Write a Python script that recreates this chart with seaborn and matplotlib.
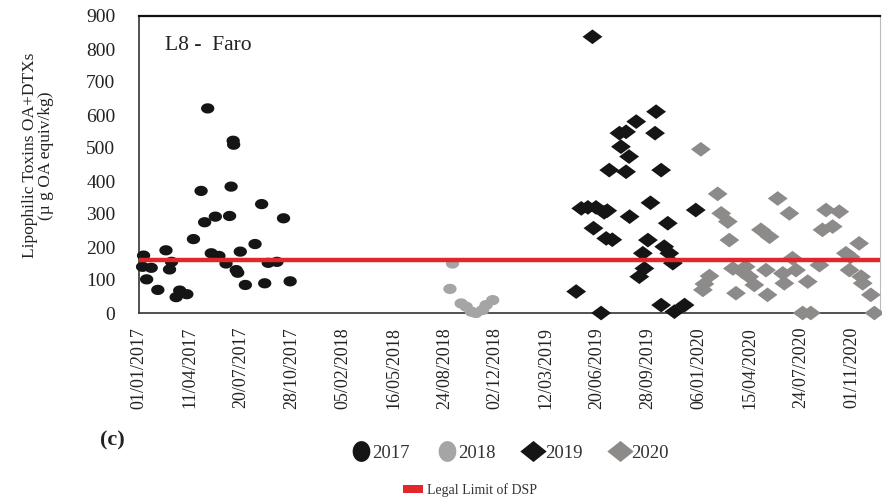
import numpy as np
import pandas as pd
import matplotlib
matplotlib.use("Agg")
import matplotlib.pyplot as plt
from matplotlib.lines import Line2D
from matplotlib.patches import Patch
import seaborn as sns

# values (date of sample, toxin level)
dates_2017 = ["2017-01-08", "2017-01-10", "2017-01-16", "2017-01-25", "2017-02-07", "2017-02-23",
              "2017-03-02", "2017-03-06", "2017-03-15", "2017-03-22", "2017-04-05", "2017-04-18",
              "2017-05-03", "2017-05-10", "2017-05-16", "2017-05-23", "2017-05-31", "2017-06-07",
              "2017-06-21", "2017-06-28", "2017-07-01", "2017-07-05", "2017-07-06", "2017-07-11",
              "2017-07-14", "2017-07-19", "2017-07-29", "2017-08-17", "2017-08-30", "2017-09-05",
              "2017-09-12", "2017-09-29", "2017-10-12", "2017-10-25"]
vals_2017 = [140, 174, 102, 137, 70, 190,
             132, 155, 48, 68, 57, 224,
             370, 275, 620, 181, 292, 173,
             150, 294, 383, 522, 510, 130,
             122, 186, 85, 209, 330, 90,
             152, 155, 287, 96]

dates_2018 = ["2018-09-04", "2018-09-09", "2018-09-26", "2018-10-06", "2018-10-16", "2018-10-25",
              "2018-11-07", "2018-11-14", "2018-11-27"]
vals_2018 = [73, 150, 29, 19, 4, 0, 9, 24, 39]

dates_2019 = ["2019-05-10", "2019-05-20", "2019-06-02", "2019-06-11", "2019-06-13", "2019-06-18",
              "2019-06-28", "2019-07-04", "2019-07-10", "2019-07-08", "2019-07-20", "2019-07-14",
              "2019-08-03", "2019-08-06", "2019-08-16", "2019-08-16", "2019-08-22", "2019-08-23",
              "2019-09-05", "2019-09-11", "2019-09-18", "2019-09-21", "2019-09-28", "2019-10-03",
              "2019-10-12", "2019-10-14", "2019-10-24", "2019-10-24", "2019-10-30", "2019-11-06",
              "2019-11-09", "2019-11-16", "2019-11-19", "2019-12-09", "2019-12-31"]
vals_2019 = [65, 317, 320, 837, 257, 320,
             0, 305, 310, 226, 222, 433,
             545, 504, 549, 428, 474, 292,
             580, 110, 181, 135, 221, 334,
             545, 610, 433, 24, 201, 272,
             181, 151, 4, 24, 312]

dates_2020 = ["2020-01-10", "2020-01-14", "2020-01-17", "2020-01-27", "2020-02-12", "2020-02-19",
              "2020-03-03", "2020-03-06", "2020-03-13", "2020-03-19", "2020-04-01", "2020-04-07",
              "2020-04-14", "2020-04-24", "2020-05-07", "2020-05-17", "2020-05-20", "2020-05-24",
              "2020-06-09", "2020-06-19", "2020-06-22", "2020-07-02", "2020-07-08", "2020-07-15",
              "2020-07-28", "2020-08-07", "2020-08-13", "2020-08-30", "2020-09-05", "2020-09-12",
              "2020-09-25", "2020-10-08", "2020-10-21", "2020-10-28", "2020-10-30", "2020-11-16",
              "2020-11-20", "2020-11-23", "2020-12-09", "2020-12-16"]
vals_2020 = [496, 70, 88, 112, 361, 302,
             277, 221, 135, 60, 125, 140,
             110, 85, 252, 130, 55, 231,
             347, 120, 90, 302, 166, 130,
             0, 95, 0, 145, 252, 312,
             262, 307, 181, 130, 170, 211,
             110, 90, 55, 0]

legal_limit = 160
years = ["2017", "2018", "2019", "2020"]

frames = []
for yr, d, v in zip(years, [dates_2017, dates_2018, dates_2019, dates_2020],
                    [vals_2017, vals_2018, vals_2019, vals_2020]):
    frames.append(pd.DataFrame({"date": pd.to_datetime(d), "value": v, "year": yr}))
df = pd.concat(frames, ignore_index=True)

# squashed ellipse / diamond shapes like the original (stretched) figure
t = np.linspace(0, 2 * np.pi, 41)
ellipse = np.column_stack([1.3 * np.cos(t), np.sin(t)])
diamond = np.array([[1.35, 0], [0, 1], [-1.35, 0], [0, -1], [1.35, 0]])
ellipse_tall = np.column_stack([0.85 * np.cos(t), np.sin(t)])
diamond_leg = np.array([[1.25, 0], [0, 1], [-1.25, 0], [0, -1], [1.25, 0]])

colors = {"2017": "#151515", "2018": "#a5a5a5", "2019": "#151515", "2020": "#8d8a8a"}
markers = {"2017": ellipse, "2018": ellipse, "2019": diamond, "2020": diamond}
sizes = {"2017": 92, "2018": 92, "2019": 205, "2020": 205}

sns.set_theme(style="white")
plt.rcParams["font.family"] = ["Liberation Serif", "DejaVu Serif"]
plt.rcParams["axes.unicode_minus"] = False

fig = plt.figure(figsize=(8.82, 5), dpi=100)
ax = fig.add_axes([139 / 882, 1 - 313 / 500, 741 / 882, 297 / 500])

sns.scatterplot(data=df, x="date", y="value", hue="year", style="year", size="year",
                palette=colors, markers=markers, sizes=sizes, linewidth=0,
                legend=False, clip_on=False, ax=ax, zorder=3)

ax.axhline(legal_limit, color="#e3262b", lw=3.2, zorder=4)

start = pd.Timestamp("2017-01-01")
ticks = pd.date_range(start, periods=15, freq="100D")
ax.set_xlim(start, pd.Timestamp("2020-12-27"))
ax.set_xticks(ticks)
ax.set_xticklabels([d.strftime("%d/%m/%Y") for d in ticks], rotation=90, fontsize=13, color="#222222")
ax.set_ylim(0, 900)
ax.set_yticks(range(0, 901, 100))
ax.set_yticklabels([str(v) for v in range(0, 901, 100)], fontsize=14, color="#222222")
ax.tick_params(axis="x", direction="in", length=5, width=1, color="#444444", pad=10)
ax.tick_params(axis="y", direction="out", length=3, width=1, color="#444444", pad=14)

ax.set_xlabel("")
ax.set_ylabel("Lipophilic Toxins OA+DTXs\n(µ g OA equiv/kg)", fontsize=12.5, color="#222222",
              linespacing=1.0)
ax.yaxis.set_label_coords(-0.115, 0.53)

for side in ["left", "bottom"]:
    ax.spines[side].set_color("#333333")
    ax.spines[side].set_linewidth(1.2)
ax.spines["top"].set_color("#111111")
ax.spines["top"].set_linewidth(1.6)
ax.spines["right"].set_color("#bbbbbb")
ax.spines["right"].set_linewidth(0.8)

ax.text(0.035, 0.902, "L8 -  Faro", transform=ax.transAxes, fontsize=15.5,
        color="#222222", va="center", ha="left")

fig.text(112 / 882, 1 - 440 / 500, "(c)", fontsize=16, fontweight="bold",
         ha="center", va="center", color="#222222")

handles = [
    Line2D([], [], ls="", marker=ellipse_tall, markersize=15, color=colors["2017"], mew=0),
    Line2D([], [], ls="", marker=ellipse_tall, markersize=15, color=colors["2018"], mew=0),
    Line2D([], [], ls="", marker=diamond_leg, markersize=19, color=colors["2019"], mew=0),
    Line2D([], [], ls="", marker=diamond_leg, markersize=19, color=colors["2020"], mew=0),
]
fig.legend(handles, years, loc="center", bbox_to_anchor=(510 / 882, 1 - 453 / 500), ncol=4,
           frameon=False, fontsize=13.5, handlelength=1.0, handletextpad=0.1,
           columnspacing=1.5, labelcolor="#333333")

fig.legend([Patch(facecolor="#e3262b", edgecolor="none")], ["Legal Limit of DSP"], loc="center",
           bbox_to_anchor=(470 / 882, 1 - 490 / 500), frameon=False, fontsize=10,
           handlelength=1.4, handleheight=0.6, handletextpad=0.3, labelcolor="#333333")

fig.savefig("out.png", dpi=100)
